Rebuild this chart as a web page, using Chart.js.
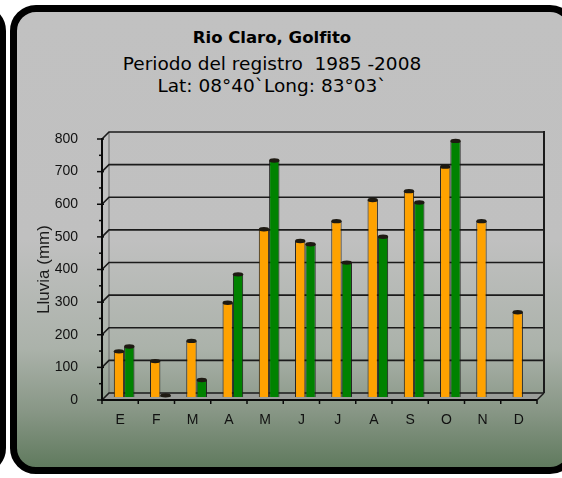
<!DOCTYPE html>
<html lang="es">
<head>
<meta charset="utf-8">
<title>Rio Claro, Golfito</title>
<script src="https://cdn.jsdelivr.net/npm/chart.js@4/dist/chart.umd.min.js"></script>
<style>
  html, body { margin: 0; padding: 0; background: #ffffff; }
  #stage { position: relative; width: 562px; height: 478px; overflow: hidden; background: #ffffff; }
  .panel {
    position: absolute; box-sizing: border-box;
    border: 7px solid #000000; border-radius: 26px;
    background: linear-gradient(180deg, #c1c1c1 0%, #c0c0c0 50%, #abb2aa 74%, #879685 88%, #607a5e 100%);
  }
  #prev { left: -60px; top: 5px; width: 66px; height: 469px; }
  #main { left: 10px; top: 5px; width: 566px; height: 469px; }
  .head {
    position: absolute; left: 0; width: 544px; text-align: center;
    font-family: "DejaVu Sans", Verdana, sans-serif; color: #000000; white-space: pre;
    font-size: 18.5px; line-height: 22px;
  }
  #t1 { top: 27px; font-weight: bold; font-size: 16.5px; }
  #t2 { top: 53px; }
  #t3 { top: 75px; }
  #chart { position: absolute; left: 0; top: 0; }
</style>
</head>
<body>
<div id="stage">
  <div class="panel" id="prev"></div>
  <div class="panel" id="main"></div>
  <div class="head" id="t1">Rio Claro, Golfito</div>
  <div class="head" id="t2">Periodo del registro  1985 -2008</div>
  <div class="head" id="t3">Lat: 08°40`Long: 83°03`</div>
  <canvas id="chart" width="562" height="478"></canvas>
</div>
<script>
// Monthly rainfall (mm), two series per month
const months = ['E', 'F', 'M', 'A', 'M', 'J', 'J', 'A', 'S', 'O', 'N', 'D'];
const rainOrange = [140, 110, 172, 289, 514, 478, 539, 604, 631, 706, 539, 260];
const rainGreen = [155, 5, 52, 376, 725, 468, 412, 491, 596, 785, null, null];
const yTickValues = [0, 100, 200, 300, 400, 500, 600, 700, 800];

// depth of the pseudo-3D back wall and of the bar row
const DEPTH_X = 7, DEPTH_Y = -7;
const BAR_SHIFT_X = 4, BAR_SHIFT_Y = -3;

function seg(ctx, x1, y1, x2, y2) {
  ctx.beginPath(); ctx.moveTo(x1, y1); ctx.lineTo(x2, y2); ctx.stroke();
}

const box3d = {
  id: 'box3d',
  beforeDatasetsDraw(chart) {
    const { ctx, scales: { x, y } } = chart;
    const L = x.left, R = x.right;
    const y0 = y.getPixelForValue(0), yTop = y.getPixelForValue(800);
    ctx.save();
    // floor
    ctx.fillStyle = '#9a9d99';
    ctx.beginPath();
    ctx.moveTo(L, y0); ctx.lineTo(R, y0);
    ctx.lineTo(R + DEPTH_X, y0 + DEPTH_Y); ctx.lineTo(L + DEPTH_X, y0 + DEPTH_Y);
    ctx.closePath(); ctx.fill();
    // back-left edge of the wall
    ctx.strokeStyle = '#6a6a6a'; ctx.lineWidth = 1;
    seg(ctx, L + DEPTH_X, y0 + DEPTH_Y, L + DEPTH_X, yTop + DEPTH_Y);
    // grid lines on the back wall, joined to the front axis
    ctx.strokeStyle = '#1b1b1b'; ctx.lineWidth = 1.6;
    yTickValues.forEach(v => {
      const py = y.getPixelForValue(v);
      ctx.beginPath();
      ctx.moveTo(L, py);
      ctx.lineTo(L + DEPTH_X, py + DEPTH_Y);
      ctx.lineTo(R + DEPTH_X, py + DEPTH_Y);
      ctx.stroke();
    });
    // right edge of the wall and floor
    ctx.lineWidth = 2;
    seg(ctx, R + DEPTH_X, yTop + DEPTH_Y - 1, R + DEPTH_X, y0 + DEPTH_Y);
    ctx.lineWidth = 1.5;
    seg(ctx, R, y0, R + DEPTH_X, y0 + DEPTH_Y);
    ctx.restore();
    // bars stand in the middle of the depth
    ctx.save();
    ctx.translate(BAR_SHIFT_X, BAR_SHIFT_Y);
  },
  afterDatasetsDraw(chart) {
    const { ctx, scales: { x, y } } = chart;
    // dark caps on top of each column
    chart.data.datasets.forEach((ds, i) => {
      const meta = chart.getDatasetMeta(i);
      meta.data.forEach((el, j) => {
        if (ds.data[j] == null) return;
        ctx.fillStyle = '#1e1a12';
        ctx.beginPath();
        ctx.ellipse(el.x, el.y, el.width / 2, 2.2, 0, 0, Math.PI * 2);
        ctx.fill();
      });
    });
    ctx.restore();

    // front axes with tick marks
    const L = x.left, R = x.right;
    const y0 = y.getPixelForValue(0), yTop = y.getPixelForValue(800);
    ctx.save();
    ctx.strokeStyle = '#0a0a0a';
    ctx.lineWidth = 2;
    seg(ctx, L, yTop - 1, L, y0 + 1);
    seg(ctx, L, y0, R, y0);
    ctx.lineWidth = 1.5;
    yTickValues.forEach(v => {
      const py = y.getPixelForValue(v);
      seg(ctx, L - 5, py, L + 2, py);
      if (v < 800) {
        const pm = y.getPixelForValue(v + 50);
        seg(ctx, L - 3, pm, L, pm);
      }
    });
    for (let i = 0; i <= months.length; i++) {
      const px = L + (R - L) * i / months.length;
      seg(ctx, px, y0, px, y0 + 4);
    }
    ctx.restore();
  }
};

new Chart(document.getElementById('chart'), {
  type: 'bar',
  data: {
    labels: months,
    datasets: [
      {
        label: 'Serie 1',
        data: rainOrange,
        backgroundColor: '#ffa200',
        borderColor: '#1a1a1a',
        borderWidth: 1
      },
      {
        label: 'Serie 2',
        data: rainGreen,
        backgroundColor: '#008200',
        borderColor: '#1a1a1a',
        borderWidth: 1
      }
    ]
  },
  options: {
    responsive: false,
    animation: false,
    devicePixelRatio: 1,
    clip: false,
    categoryPercentage: 0.57,
    barPercentage: 1,
    layout: { padding: { left: 30, right: 25, top: 139, bottom: 38 } },
    plugins: {
      legend: { display: false },
      tooltip: { enabled: false },
      title: { display: false }
    },
    scales: {
      x: {
        grid: { display: false },
        border: { display: false },
        ticks: {
          maxRotation: 0, autoSkip: false, padding: 4,
          color: '#111111',
          font: { family: '"Liberation Sans", Arial, sans-serif', size: 14 }
        },
        afterFit: s => { s.height = 40; }
      },
      y: {
        min: 0, max: 800,
        grid: { display: false },
        border: { display: false },
        ticks: {
          stepSize: 100, padding: 16,
          color: '#111111',
          font: { family: '"Liberation Sans", Arial, sans-serif', size: 14 }
        },
        title: {
          display: true, text: 'Lluvia (mm)', color: '#1a1a1a',
          font: { family: '"Liberation Sans", Arial, sans-serif', size: 17 }
        },
        afterFit: s => { s.width = 72; }
      }
    }
  },
  plugins: [box3d]
});
</script>
</body>
</html>
